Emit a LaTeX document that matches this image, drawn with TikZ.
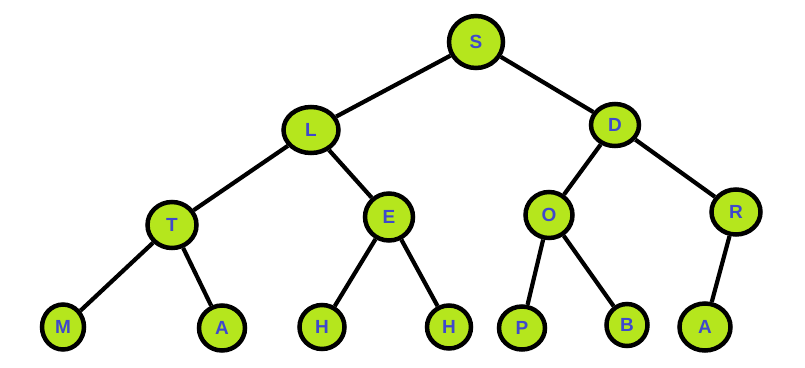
\documentclass[tikz,border=0pt]{standalone}
\usepackage{fontspec}
\setmainfont{Liberation Sans}
\usetikzlibrary{shapes.geometric}
\definecolor{lime}{HTML}{B5E61D}
\definecolor{indigo}{HTML}{3F48CC}

\begin{document}
\begin{tikzpicture}[
    x=1pt, y=-1pt,
    every node/.style={font=\fontsize{19}{19}\selectfont\bfseries},
    vertex/.style={ellipse, draw=black, line width=4.5pt, fill=lime, text=indigo,
                   inner sep=0pt, minimum width=#1},
    vertex/.default=50pt,
    edge/.style={line width=4.2pt, draw=black}
]
\useasboundingbox (0,0) rectangle (805,367);

% level 0 and 1
\node[vertex=54pt, minimum height=52pt] (s) at (476,42) {S};
\node[vertex=55pt, minimum height=46pt] (l) at (311,130) {L};
\node[vertex=48pt, minimum height=42pt] (d) at (615,125) {D};
% level 2
\node[vertex=49pt, minimum height=46pt] (t) at (172,225) {T};
\node[vertex=48pt, minimum height=47pt] (e) at (389,217) {E};
\node[vertex=47pt, minimum height=46pt] (o) at (549,215) {O};
\node[vertex=49pt, minimum height=45pt] (r) at (736,212) {R};
% leaves
\node[vertex=42pt, minimum height=45pt] (m)  at (63,327)  {M};
\node[vertex=46pt, minimum height=45pt] (a1) at (222,328) {A};
\node[vertex=45pt, minimum height=44pt] (h1) at (322,327) {H};
\node[vertex=44pt, minimum height=43pt] (h2) at (449,327) {H};
\node[vertex=46pt, minimum height=43pt] (p)  at (522,328) {P};
\node[vertex=41pt, minimum height=42pt] (b)  at (627,325) {B};
\node[vertex=51pt, minimum height=47pt] (a2) at (705,327) {A};

\foreach \from/\to in {s/l, s/d, l/t, l/e, d/o, d/r,
                       t/m, t/a1, e/h1, e/h2, o/p, o/b, r/a2}
    \draw[edge] (\from) -- (\to);
\end{tikzpicture}
\end{document}
